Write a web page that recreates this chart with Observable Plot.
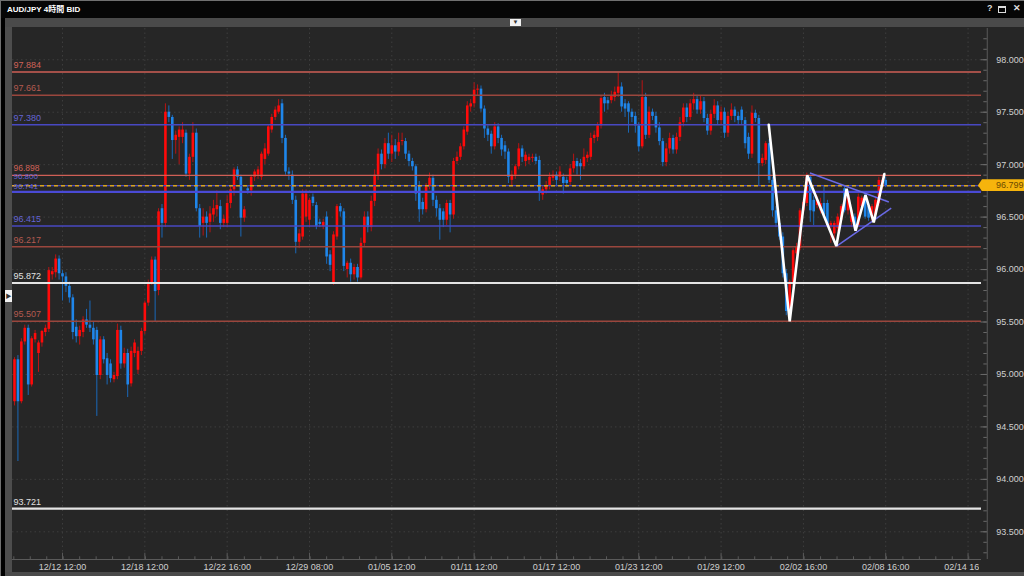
<!DOCTYPE html>
<html><head><meta charset="utf-8">
<script src="https://cdn.jsdelivr.net/npm/d3@7"></script>
<script src="https://cdn.jsdelivr.net/npm/@observablehq/plot@0.6"></script>
<style>
html,body{margin:0;padding:0;background:#000;}
body{width:1024px;height:576px;overflow:hidden;position:relative;font-family:"Liberation Sans","Noto Sans CJK JP",sans-serif;}
.abs{position:absolute;}
#titlebar{left:0;top:0;width:1024px;height:18px;background:#060606;border-top:1px solid #707070;box-sizing:border-box;}
#title{left:7px;top:3px;color:#fff;font-size:8px;font-weight:bold;font-family:"Liberation Sans","Noto Sans CJK JP",sans-serif;white-space:nowrap;}
.icon{top:3px;color:#ddd;font-size:9px;font-weight:bold;}
#winicon{left:998px;top:6px;width:6px;height:4px;border:1px solid #ddd;border-top-width:2px;}
#toolbar{left:5px;top:18px;width:1019px;height:9px;background:#4a4a4a;}
#tbbtn{left:510px;top:19px;width:11px;height:7px;background:#f0f0f0;color:#333;font-size:6px;line-height:7px;text-align:center;}
#chart{left:0;top:27px;}
#lborder{left:0;top:0;width:1px;height:576px;background:#707070;}
#lblack{left:1px;top:18px;width:4px;height:558px;background:#000;}
#lstrip{left:5px;top:27px;width:7px;height:549px;background:#4d4d4d;}
#lbtn{left:5px;top:290px;width:7px;height:12px;background:#f2f2f2;color:#333;font-size:6px;line-height:12px;text-align:center;}
#bottom{left:5px;top:572px;width:1019px;height:4px;background:#4a4a4a;}
#tag{left:978px;width:46px;height:12px;background:#f6b40c;color:#6b4a00;font-size:9px;line-height:12px;box-sizing:border-box;padding-left:18px;clip-path:polygon(0 50%,4px 0,100% 0,100% 100%,4px 100%);}
#xclip{left:979px;width:45px;height:12px;background:#262626;}
</style>
</head>
<body>
<div id="chart" class="abs"></div>
<div id="titlebar" class="abs"></div>
<div id="title" class="abs">AUD/JPY 4時間 BID</div>
<div class="abs icon" style="left:987px">?</div>
<div id="winicon" class="abs"></div>
<div class="abs icon" style="left:1013px">✕</div>
<div id="toolbar" class="abs"></div>
<div id="tbbtn" class="abs">▼</div>
<div id="lborder" class="abs"></div>
<div id="lblack" class="abs"></div>
<div id="lstrip" class="abs"></div>
<div id="lbtn" class="abs">▶</div>
<div id="bottom" class="abs"></div>
<div id="xclip" class="abs"></div>
<div id="tag" class="abs">96.799</div>
<script>
// ---- Data (4-hour bars, index 0 = first bar on the left) ----
const open = [
94.74,95.14,94.74,95.31,95.44,94.90,95.33,95.20,95.30,95.40,
95.43,95.95,95.97,96.10,95.96,95.93,95.84,95.73,95.45,95.36,
95.40,95.52,95.47,95.44,95.42,94.99,95.33,95.15,95.10,94.95,
94.98,95.42,95.10,95.20,94.91,95.20,95.04,95.22,95.41,95.68,
95.87,96.09,95.80,96.58,96.44,97.50,97.45,97.23,97.26,97.26,
97.30,96.91,97.07,97.30,96.58,96.44,96.50,96.45,96.52,96.57,
96.60,96.44,96.44,96.63,96.76,96.95,96.88,96.49,96.77,96.75,
96.88,96.90,96.88,97.05,97.10,97.33,97.45,97.50,97.58,97.25,
96.93,96.90,96.66,96.26,96.31,96.50,96.47,96.69,96.61,96.45,
96.41,96.50,96.14,95.87,96.31,96.60,96.55,96.00,96.06,95.95,
96.02,95.92,96.25,96.50,96.40,96.65,96.90,97.10,97.00,97.20,
97.10,97.18,97.12,97.22,97.22,97.10,97.03,96.98,96.80,96.64,
96.57,96.79,96.87,96.66,96.58,96.55,96.47,96.63,96.52,97.03,
97.07,97.17,97.31,97.55,97.58,97.71,97.72,97.53,97.34,97.29,
97.17,97.36,97.25,97.18,97.12,96.85,96.90,96.98,97.15,97.03,
97.04,97.06,97.07,97.04,96.71,96.76,96.80,96.87,96.90,96.88,
96.88,96.85,96.83,96.96,97.03,97.01,96.98,97.06,97.07,97.25,
97.26,97.37,97.64,97.61,97.61,97.64,97.68,97.74,97.58,97.58,
97.50,97.46,97.37,97.17,97.64,97.28,97.50,97.46,97.35,97.22,
97.02,97.15,97.25,97.14,97.26,97.40,97.54,97.45,97.58,97.62,
97.52,97.60,97.44,97.32,97.48,97.56,97.42,97.50,97.30,97.46,
97.52,97.46,97.52,97.42,97.26,97.10,97.49,97.44,97.01,97.04,
97.20,96.85,96.56,96.44,96.31,95.96,95.60,95.87,96.15,96.20,
96.56,96.63,96.88,96.66,96.61,96.56,96.63,96.63,96.41,96.34,
96.39,96.47,96.77,96.56,96.45,96.50,96.42,96.60,96.69,96.60,
96.49,96.52,96.63,96.79,96.85];
const high = [
95.16,95.18,95.34,95.47,95.47,95.36,95.42,95.32,95.42,95.47,
96.02,96.02,96.14,96.13,95.99,95.97,95.88,95.76,95.52,95.46,
95.55,95.62,95.70,95.50,95.45,95.36,95.36,95.20,95.14,95.02,
95.48,95.46,95.25,95.24,95.26,95.33,95.26,95.44,95.70,95.90,
96.12,96.12,96.58,96.62,97.58,97.56,97.47,97.32,97.36,97.40,
97.33,97.10,97.40,97.34,96.62,96.58,96.55,96.60,96.66,96.75,
96.66,96.52,96.70,96.80,96.97,96.98,96.90,96.60,96.80,96.90,
96.95,96.98,97.12,97.20,97.38,97.48,97.55,97.62,97.62,97.28,
96.97,96.94,96.70,96.38,96.76,96.76,96.68,96.72,96.64,96.48,
96.48,96.55,96.18,96.36,96.62,96.63,96.58,96.08,96.10,96.05,
96.05,96.30,96.55,96.55,96.70,96.95,97.15,97.14,97.25,97.30,
97.28,97.24,97.30,97.30,97.25,97.13,97.06,97.00,96.84,96.68,
96.82,96.92,96.90,96.70,96.62,96.58,96.66,96.66,97.06,97.12,
97.20,97.36,97.60,97.62,97.78,97.76,97.75,97.56,97.37,97.32,
97.40,97.39,97.28,97.22,97.15,96.94,97.00,97.20,97.18,97.12,
97.10,97.10,97.10,97.08,96.80,96.84,96.92,96.94,96.93,96.98,
96.91,96.88,97.00,97.10,97.06,97.05,97.15,97.12,97.30,97.32,
97.40,97.66,97.68,97.64,97.70,97.74,97.87,97.78,97.62,97.60,
97.53,97.50,97.40,97.80,97.68,97.55,97.53,97.50,97.40,97.25,
97.20,97.30,97.28,97.30,97.45,97.58,97.58,97.62,97.68,97.66,
97.65,97.64,97.48,97.52,97.62,97.60,97.55,97.54,97.50,97.58,
97.55,97.50,97.55,97.45,97.30,97.56,97.52,97.47,97.10,97.22,
97.24,96.88,96.60,96.48,96.35,96.00,95.90,96.20,96.25,96.58,
96.66,96.92,96.90,96.70,96.70,96.68,96.80,96.66,96.46,96.46,
96.53,96.62,96.80,96.74,96.58,96.53,96.72,96.70,96.72,96.63,
96.62,96.68,96.88,96.90,96.88];
const low = [
94.70,94.17,94.72,95.28,94.80,94.88,95.30,95.02,95.26,95.36,
95.40,95.90,95.92,95.90,95.70,95.78,95.68,95.33,95.30,95.28,
95.35,95.44,95.40,95.28,94.60,94.95,95.10,94.90,94.92,94.92,
94.95,95.05,95.06,94.78,94.88,95.16,95.00,95.18,95.38,95.65,
95.85,95.50,95.75,96.30,96.40,97.40,97.05,97.10,97.00,97.20,
96.88,96.85,97.02,96.55,96.30,96.32,96.30,96.35,96.45,96.50,
96.38,96.40,96.40,96.58,96.70,96.85,96.31,96.45,96.72,96.70,
96.84,96.86,96.85,97.00,97.08,97.30,97.42,97.48,97.20,96.90,
96.85,96.62,96.15,96.20,96.28,96.45,96.40,96.60,96.38,96.40,
96.38,96.05,95.98,95.85,96.28,96.50,95.98,95.92,95.88,95.90,
95.88,95.90,96.22,96.35,96.36,96.60,96.85,96.95,96.96,97.05,
97.02,97.05,97.08,97.18,97.05,96.98,96.94,96.65,96.45,96.52,
96.54,96.76,96.60,96.50,96.28,96.40,96.42,96.35,96.48,97.00,
97.04,97.14,97.28,97.50,97.54,97.66,97.50,97.25,97.22,97.10,
97.14,97.20,97.08,97.05,96.82,96.80,96.86,96.95,97.02,96.98,
97.00,97.02,97.00,96.65,96.66,96.72,96.76,96.84,96.80,96.84,
96.72,96.78,96.80,96.92,96.90,96.85,96.95,97.02,97.04,97.20,
97.22,97.34,97.50,97.52,97.58,97.60,97.64,97.50,97.45,97.30,
97.40,97.30,97.12,97.15,97.24,97.25,97.42,97.30,97.18,96.98,
96.98,97.10,97.10,97.10,97.22,97.36,97.40,97.42,97.52,97.48,
97.48,97.40,97.28,97.28,97.44,97.38,97.38,97.25,97.26,97.42,
97.40,97.38,97.38,97.15,97.05,97.06,97.40,96.80,96.98,97.00,
96.82,96.50,96.40,96.28,95.92,95.56,95.54,95.84,96.12,96.18,
96.52,96.60,96.45,96.42,96.58,96.53,96.50,96.40,96.25,96.26,
96.36,96.44,96.54,96.52,96.40,96.38,96.40,96.56,96.48,96.46,
96.46,96.50,96.60,96.76,96.78];
const close = [
95.14,94.74,95.31,95.44,94.90,95.34,95.39,95.30,95.41,95.44,
95.99,95.98,96.10,95.96,95.93,95.84,95.73,95.40,95.36,95.42,
95.52,95.47,95.44,95.33,94.99,95.33,95.14,94.99,94.96,94.99,
95.42,95.10,95.20,94.90,95.22,95.30,95.22,95.41,95.68,95.87,
96.09,95.79,96.55,96.44,97.50,97.45,97.23,97.28,97.33,97.33,
96.91,97.07,97.30,96.58,96.41,96.50,96.44,96.53,96.58,96.61,
96.44,96.48,96.63,96.76,96.95,96.88,96.49,96.57,96.75,96.88,
96.93,96.95,97.10,97.15,97.36,97.45,97.52,97.56,97.25,96.93,
96.91,96.66,96.26,96.34,96.72,96.72,96.66,96.63,96.41,96.43,
96.45,96.12,96.04,96.33,96.60,96.55,96.03,96.06,95.95,96.02,
95.92,96.25,96.50,96.40,96.65,96.90,97.10,97.00,97.20,97.10,
97.18,97.12,97.21,97.23,97.10,97.03,96.98,96.72,96.57,96.57,
96.79,96.87,96.66,96.58,96.47,96.47,96.63,96.52,97.03,97.07,
97.17,97.33,97.56,97.58,97.71,97.72,97.53,97.34,97.28,97.17,
97.36,97.25,97.14,97.12,96.88,96.90,96.98,97.15,97.07,97.09,
97.07,97.07,97.03,96.74,96.76,96.80,96.88,96.90,96.85,96.93,
96.82,96.82,96.96,97.03,96.98,96.98,97.07,97.09,97.25,97.28,
97.37,97.63,97.58,97.58,97.66,97.69,97.74,97.55,97.53,97.50,
97.45,97.37,97.17,97.64,97.28,97.50,97.46,97.35,97.22,97.02,
97.15,97.25,97.14,97.26,97.40,97.54,97.45,97.58,97.62,97.52,
97.60,97.44,97.32,97.48,97.56,97.42,97.50,97.30,97.46,97.52,
97.46,97.42,97.42,97.20,97.10,97.49,97.44,97.01,97.06,97.20,
96.85,96.56,96.44,96.31,95.96,95.60,95.88,96.18,96.22,96.56,
96.64,96.88,96.56,96.55,96.66,96.63,96.52,96.42,96.44,96.44,
96.50,96.60,96.56,96.71,96.56,96.41,96.69,96.68,96.50,96.49,
96.60,96.66,96.85,96.85,96.80];

const levelValues = [97.884, 97.661, 97.380, 96.898, 96.800, 96.741, 96.415, 96.217, 95.872, 95.507, 93.721];
const levelKinds  = ["red","brown","blue","red","blue","blueBold","blue","brown","white","brown","white"];
const currentPrice = 96.799;

const xTickBars   = [14, 38, 62, 86, 110, 134, 158, 182, 206, 230, 254, 278];
const xTickLabels = ["12/12 12:00","12/18 12:00","12/22 16:00","12/29 08:00","01/05 12:00","01/11 12:00",
                     "01/17 12:00","01/23 12:00","01/29 12:00","02/02 16:00","02/08 16:00","02/14 16:00"];
const yTickValues = [93.5, 94.0, 94.5, 95.0, 95.5, 96.0, 96.5, 97.0, 97.5, 98.0];

const waveBars   = [219.9, 226.0, 231.1, 239.6, 242.6, 245.2, 248.1, 250.5, 253.6];
const wavePrices = [97.380, 95.507, 96.898, 96.225, 96.77, 96.37, 96.71, 96.45, 96.91];

const trendFromBars   = [231.9, 239.6];
const trendFromPrices = [96.92, 96.22];
const trendToBars     = [254.9, 255.6];
const trendToPrices   = [96.644, 96.585];

// ---- Styles ----
const kindStyle = {
  red:      {stroke: "#cf5f56", width: 1.4, text: "#cf6258"},
  brown:    {stroke: "#9a463d", width: 1.4, text: "#b35a50"},
  blue:     {stroke: "#4848c2", width: 1.4, text: "#6464d4"},
  blueBold: {stroke: "#4a4ad6", width: 2.4, text: "#6464d4"},
  white:    {stroke: "#e4e4e4", width: 2.2, text: "#e0e0e0"}
};
// label placement for the three crowded levels (others sit 7px above their line)
const labelStyle = v => v === 96.8 ? {dy: -9, size: 8} : v === 96.741 ? {dy: -5, size: 8} : v === 96.898 ? {dy: -7.5, size: 8.5} : {dy: -7, size: 9};
const UP_BODY = "#ff0a0a", DOWN_BODY = "#1f86ea";
const UP_WICK = "#b81414", DOWN_WICK = "#1a68b8";

const bars = close.map((c, i) => ({i, o: open[i], h: high[i], l: low[i], c}));
const levels = levelValues.map((v, k) => ({v, kind: levelKinds[k]}));
const xTicks = xTickBars.map((b, k) => ({b, label: xTickLabels[k]}));
const wave = waveBars.map((b, k) => ({b, p: wavePrices[k]}));
const trends = trendFromBars.map((b, k) => ({b1: b, p1: trendFromPrices[k], b2: trendToBars[k], p2: trendToPrices[k]}));

const xDom = [-0.583, 281.92];
const yDom = [93.236, 98.298];
const axisBar = 283.6, majorTickBar = 281.83, minorTickBar = 282.6;
const minorX = d3.range(-0.2, 281.5, 4.8);
const minorY = d3.range(93.3, 98.25, 0.1).map(v => +v.toFixed(1));
const grey = "#3e3e3e";

const levelTextMarks = levels.map(d => {
  const s = labelStyle(d.v);
  return Plot.text([d], {x: xDom[0], y: "v", text: e => e.v.toFixed(3), fill: kindStyle[d.kind].text,
    textAnchor: "start", dx: 1, dy: s.dy, fontSize: s.size});
});

const chart = Plot.plot({
  width: 1024, height: 549,
  marginLeft: 12, marginRight: 43, marginTop: 1, marginBottom: 17,
  style: {background: "#262626", color: "#cccccc", fontFamily: "'Liberation Sans', Arial, sans-serif", fontSize: "9px"},
  x: {domain: xDom, axis: null},
  y: {domain: yDom, axis: null},
  marks: [
    // dotted grid
    Plot.ruleX(xTicks, {x: "b", stroke: grey, strokeDasharray: "1.5,3", strokeWidth: 1}),
    Plot.ruleY(yTickValues, {stroke: grey, strokeDasharray: "1.5,3", strokeWidth: 1}),
    // candles
    Plot.ruleX(bars, {x: "i", y1: "l", y2: "h", stroke: d => d.c >= d.o ? UP_WICK : DOWN_WICK, strokeWidth: 1}),
    Plot.ruleX(bars, {x: "i", y1: "o", y2: "c", stroke: d => d.c >= d.o ? UP_BODY : DOWN_BODY, strokeWidth: 2.6}),
    // horizontal levels
    Plot.ruleY(levels, {y: "v", stroke: d => kindStyle[d.kind].stroke, strokeWidth: d => kindStyle[d.kind].width}),
    Plot.ruleY([currentPrice], {stroke: "#d9a41c", strokeWidth: 1.4, strokeDasharray: "4,3"}),
    ...levelTextMarks,
    // triangle trend lines and zig-zag wave
    Plot.link(trends, {x1: "b1", y1: "p1", x2: "b2", y2: "p2", stroke: "#6a6ae6", strokeWidth: 1.5}),
    Plot.line(wave, {x: "b", y: "p", stroke: "#ffffff", strokeWidth: 2.6, strokeLinejoin: "miter"}),
    // right price axis
    Plot.ruleX([axisBar], {y1: yDom[0], y2: yDom[1], stroke: "#5a5a5a"}),
    Plot.ruleY(minorY, {y: d => d, x1: minorTickBar, x2: axisBar, stroke: "#6a6a6a"}),
    Plot.ruleY(yTickValues, {y: d => d, x1: majorTickBar, x2: axisBar, stroke: "#6a6a6a"}),
    Plot.text(yTickValues, {x: axisBar, y: d => d, text: d => d.toFixed(3), textAnchor: "start", dx: 9, fill: "#d0d0d0", fontSize: 9}),
    // bottom time axis
    Plot.ruleY([yDom[0]], {x1: xDom[0], x2: xDom[1], stroke: "#5a5a5a"}),
    Plot.ruleX(minorX, {x: d => d, y1: yDom[0], y2: yDom[0] + 0.026, stroke: "#5a5a5a"}),
    Plot.ruleX(xTicks, {x: "b", y1: yDom[0], y2: yDom[0] + 0.06, stroke: "#5a5a5a"}),
    Plot.text(xTicks, {x: "b", y: yDom[0], text: "label", dy: 8, fill: "#cfcfcf", fontSize: 9})
  ]
});
document.getElementById("chart").appendChild(chart);

// price tag and clipping of the last time label, placed through the plot's own scales
const ys = chart.scale("y");
const tagY = 27 + ys.apply(currentPrice);
const tag = document.getElementById("tag");
tag.style.top = (tagY - 6) + "px";
const xclip = document.getElementById("xclip");
xclip.style.top = (27 + ys.apply(yDom[0]) + 1) + "px";
</script>
</body></html>
